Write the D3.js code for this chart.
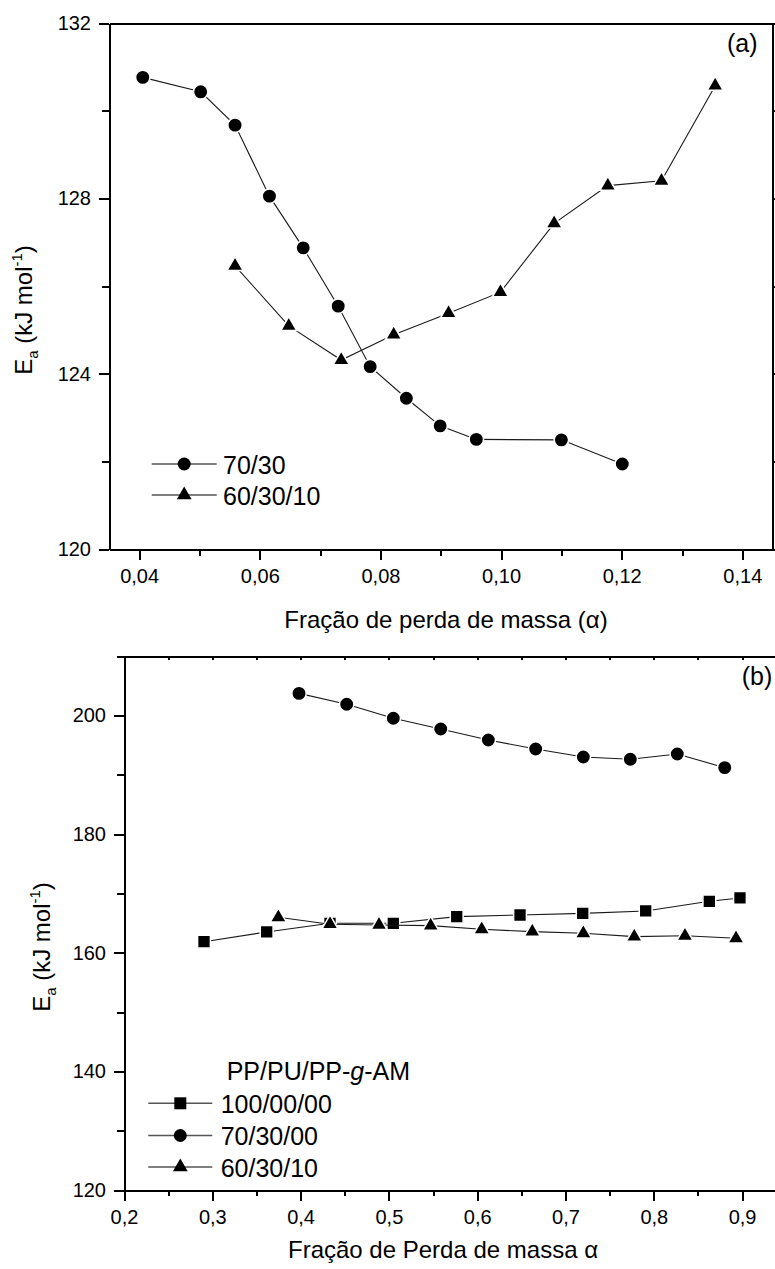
<!DOCTYPE html>
<html>
<head>
<meta charset="utf-8">
<script src="https://cdn.jsdelivr.net/npm/d3@7"></script>
<style>
  html, body { margin: 0; padding: 0; background: #fff; }
  svg { display: block; font-family: "Liberation Sans", Arial, sans-serif; }
  .axis path, .axis line { stroke: #000; stroke-width: 2; shape-rendering: crispEdges; }
  .axis text { font-size: 20px; fill: #000; font-family: "Liberation Sans", Arial, sans-serif; }
</style>
</head>
<body>
<svg id="chart" width="775" height="1269"></svg>
<script>
// ---- Panel (a): activation energy vs. mass-loss fraction ----
const alphaA_7030   = [0.0406, 0.0502, 0.0559, 0.0616, 0.0672, 0.0730, 0.0783, 0.0843, 0.0899, 0.0959, 0.1100, 0.1201];
const eaA_7030      = [130.76, 130.43, 129.67, 128.05, 126.87, 125.54, 124.16, 123.44, 122.81, 122.50, 122.49, 121.94];
const alphaA_603010 = [0.0559, 0.0648, 0.0735, 0.0822, 0.0913, 0.0999, 0.1088, 0.1177, 0.1266, 0.1355];
const eaA_603010    = [126.46, 125.09, 124.31, 124.89, 125.38, 125.86, 127.43, 128.29, 128.40, 130.57];
const seriesNamesA  = ["70/30", "60/30/10"];
const xTicksA       = [0.04, 0.06, 0.08, 0.10, 0.12, 0.14];
const xMinorA       = [0.05, 0.07, 0.09, 0.11, 0.13];
const yTicksA       = [120, 124, 128, 132];
const yMinorA       = [122, 126, 130];

// ---- Panel (b) ----
const alphaB_100 = [0.2906, 0.3616, 0.4333, 0.5050, 0.5768, 0.6485, 0.7195, 0.7908, 0.8629, 0.8976];
const eaB_100    = [161.85, 163.49, 164.95, 164.95, 166.07, 166.35, 166.63, 167.03, 168.66, 169.22];
const alphaB_70  = [0.3982, 0.4522, 0.5050, 0.5587, 0.6126, 0.6662, 0.7202, 0.7734, 0.8266, 0.8803];
const eaB_70     = [203.7, 201.86, 199.5, 197.7, 195.85, 194.33, 192.98, 192.59, 193.49, 191.18];
const alphaB_60  = [0.3748, 0.4333, 0.4888, 0.5473, 0.6051, 0.6624, 0.7202, 0.7779, 0.8353, 0.8931];
const eaB_60     = [165.96, 164.8, 164.67, 164.55, 163.94, 163.54, 163.26, 162.70, 162.84, 162.42];
const seriesNamesB = ["100/00/00", "70/30/00", "60/30/10"];
const xTicksB    = [0.2, 0.3, 0.4, 0.5, 0.6, 0.7, 0.8, 0.9];
const xMinorB    = [0.25, 0.35, 0.45, 0.55, 0.65, 0.75, 0.85];
const xTopTicksB = [0.2, 0.25, 0.3, 0.35, 0.4, 0.45, 0.5, 0.55, 0.6, 0.65, 0.7, 0.75, 0.8, 0.85, 0.9, 0.95];
const yTicksB    = [120, 140, 160, 180, 200];
const yMinorB    = [130, 150, 170, 190, 210];

const ptBR = d3.formatLocale({ decimal: ",", thousands: ".", grouping: [3], currency: ["", ""] });
const svg = d3.select("#chart");

// data markers (drawn with a white outline so the joining lines stop short of them)
const symbols = {
  circle:   d3.symbol(d3.symbolCircle, Math.PI * 7.2 * 7.2),
  square:   d3.symbol(d3.symbolSquare, 12.8 * 12.8),
  triangle: d3.symbol(d3.symbolTriangle, 112)
};
// legend markers (no outline)
const legendSymbols = {
  circle:   d3.symbol(d3.symbolCircle, Math.PI * 6.5 * 6.5),
  square:   d3.symbol(d3.symbolSquare, 12 * 12),
  triangle: d3.symbol(d3.symbolTriangle, 95)
};

function zip(xs, ys) { return xs.map((x, i) => ({ x, y: ys[i] })); }

function drawSeries(g, x, y, data, shape) {
  const line = d3.line().x(d => x(d.x)).y(d => y(d.y));
  g.append("path").datum(data)
    .attr("d", line).attr("fill", "none")
    .attr("stroke", "#1a1a1a").attr("stroke-width", 1.1);
  g.selectAll(null).data(data).enter().append("path")
    .attr("d", symbols[shape])
    .attr("transform", d => `translate(${x(d.x)},${y(d.y)})`)
    .attr("fill", "#000").attr("stroke", "#fff").attr("stroke-width", 1.5);
}

function legendRow(g, x0, x1, yc, shape, label, tx) {
  g.append("line").attr("x1", x0).attr("x2", x1).attr("y1", yc).attr("y2", yc)
    .attr("stroke", "#555").attr("stroke-width", 1.5);
  g.append("path").attr("d", legendSymbols[shape])
    .attr("transform", `translate(${(x0 + x1) / 2},${yc})`).attr("fill", "#000");
  g.append("text").attr("x", tx).attr("y", yc + 9.5)
    .attr("font-size", 25).text(label);
}

function yTitle(g, cx, cy) {
  const t = g.append("text")
    .attr("transform", `translate(${cx},${cy}) rotate(-90)`)
    .attr("text-anchor", "middle").attr("font-size", 24);
  t.append("tspan").text("E");
  t.append("tspan").attr("font-size", 15).attr("dy", 6).text("a");
  t.append("tspan").attr("dy", -6).text(" (kJ mol");
  t.append("tspan").attr("font-size", 15).attr("dy", -10).text("-1");
  t.append("tspan").attr("dy", 10).text(")");
}

// ================= Panel (a) =================
{
  const x = d3.scaleLinear().domain([0.035, 0.145]).range([109, 772.5]);
  const y = d3.scaleLinear().domain([120, 132]).range([549, 23]);
  const g = svg.append("g");
  const [xl, xr] = x.range(), [yb, yt] = y.range();

  g.append("g").attr("class", "axis").attr("transform", `translate(${xl},0)`)
    .call(d3.axisLeft(y).tickValues(yTicksA).tickSize(10).tickSizeOuter(0).tickPadding(8).tickFormat(d3.format("d")));
  g.append("g").attr("class", "axis").attr("transform", `translate(${xl},0)`)
    .call(d3.axisLeft(y).tickValues(yMinorA).tickSize(7).tickSizeOuter(0).tickFormat(""));
  g.append("g").attr("class", "axis").attr("transform", `translate(${xr},0)`)
    .call(d3.axisRight(y).tickValues(yTicksA.concat(yMinorA)).tickSize(8).tickSizeOuter(0).tickFormat(""));
  g.append("g").attr("class", "axis").attr("transform", `translate(0,${yb})`)
    .call(d3.axisBottom(x).tickValues(xTicksA).tickSize(11).tickSizeOuter(0).tickPadding(9).tickFormat(ptBR.format(".2f")));
  g.append("g").attr("class", "axis").attr("transform", `translate(0,${yb})`)
    .call(d3.axisBottom(x).tickValues(xMinorA).tickSize(7).tickSizeOuter(0).tickFormat(""));
  g.append("g").attr("class", "axis").attr("transform", `translate(0,${yt})`)
    .call(d3.axisTop(x).tickValues([]).tickSizeOuter(0));

  drawSeries(g, x, y, zip(alphaA_7030, eaA_7030), "circle");
  drawSeries(g, x, y, zip(alphaA_603010, eaA_603010), "triangle");

  legendRow(g, 151.7, 216.7, 464, "circle", seriesNamesA[0], 223);
  legendRow(g, 151.7, 216.7, 495, "triangle", seriesNamesA[1], 223);

  g.append("text").attr("x", 727).attr("y", 52).attr("font-size", 25).text("(a)");
  g.append("text").attr("x", 446).attr("y", 628).attr("text-anchor", "middle")
    .attr("font-size", 24).text("Fração de perda de massa (α)");
  yTitle(g, 32, 310);
}

// ================= Panel (b) =================
{
  const x = d3.scaleLinear().domain([0.2, 0.95]).range([124, 786.25]);
  const y = d3.scaleLinear().domain([120, 210]).range([1190, 656]);
  const g = svg.append("g");
  const [xl] = x.range(), [yb, yt] = y.range();

  g.append("g").attr("class", "axis").attr("transform", `translate(${xl},0)`)
    .call(d3.axisLeft(y).tickValues(yTicksB).tickSize(10).tickSizeOuter(0).tickPadding(8).tickFormat(d3.format("d")));
  g.append("g").attr("class", "axis").attr("transform", `translate(${xl},0)`)
    .call(d3.axisLeft(y).tickValues(yMinorB).tickSize(7).tickSizeOuter(0).tickFormat(""));
  g.append("g").attr("class", "axis").attr("transform", `translate(0,${yb})`)
    .call(d3.axisBottom(x).tickValues(xTicksB).tickSize(11).tickSizeOuter(0).tickPadding(9).tickFormat(ptBR.format(".1f")));
  g.append("g").attr("class", "axis").attr("transform", `translate(0,${yb})`)
    .call(d3.axisBottom(x).tickValues(xMinorB).tickSize(6).tickSizeOuter(0).tickFormat(""));
  g.append("g").attr("class", "axis").attr("transform", `translate(0,${yt})`)
    .call(d3.axisTop(x).tickValues(xTopTicksB).tickSize(-4).tickSizeOuter(0).tickFormat(""));

  drawSeries(g, x, y, zip(alphaB_100, eaB_100), "square");
  drawSeries(g, x, y, zip(alphaB_70, eaB_70), "circle");
  drawSeries(g, x, y, zip(alphaB_60, eaB_60), "triangle");

  const title = g.append("text").attr("x", 226.7).attr("y", 1080).attr("font-size", 25);
  title.append("tspan").text("PP/PU/PP-");
  title.append("tspan").attr("font-style", "italic").text("g");
  title.append("tspan").text("-AM");
  legendRow(g, 148.3, 212.3, 1103.3, "square", seriesNamesB[0], 220.7);
  legendRow(g, 148.3, 212.3, 1135.5, "circle", seriesNamesB[1], 220.7);
  legendRow(g, 148.3, 212.3, 1167, "triangle", seriesNamesB[2], 220.7);

  g.append("text").attr("x", 741.7).attr("y", 685).attr("font-size", 25).text("(b)");
  g.append("text").attr("x", 443).attr("y", 1258).attr("text-anchor", "middle")
    .attr("font-size", 24).text("Fração de Perda de massa α");
  yTitle(g, 50, 947);
}
</script>
</body>
</html>
